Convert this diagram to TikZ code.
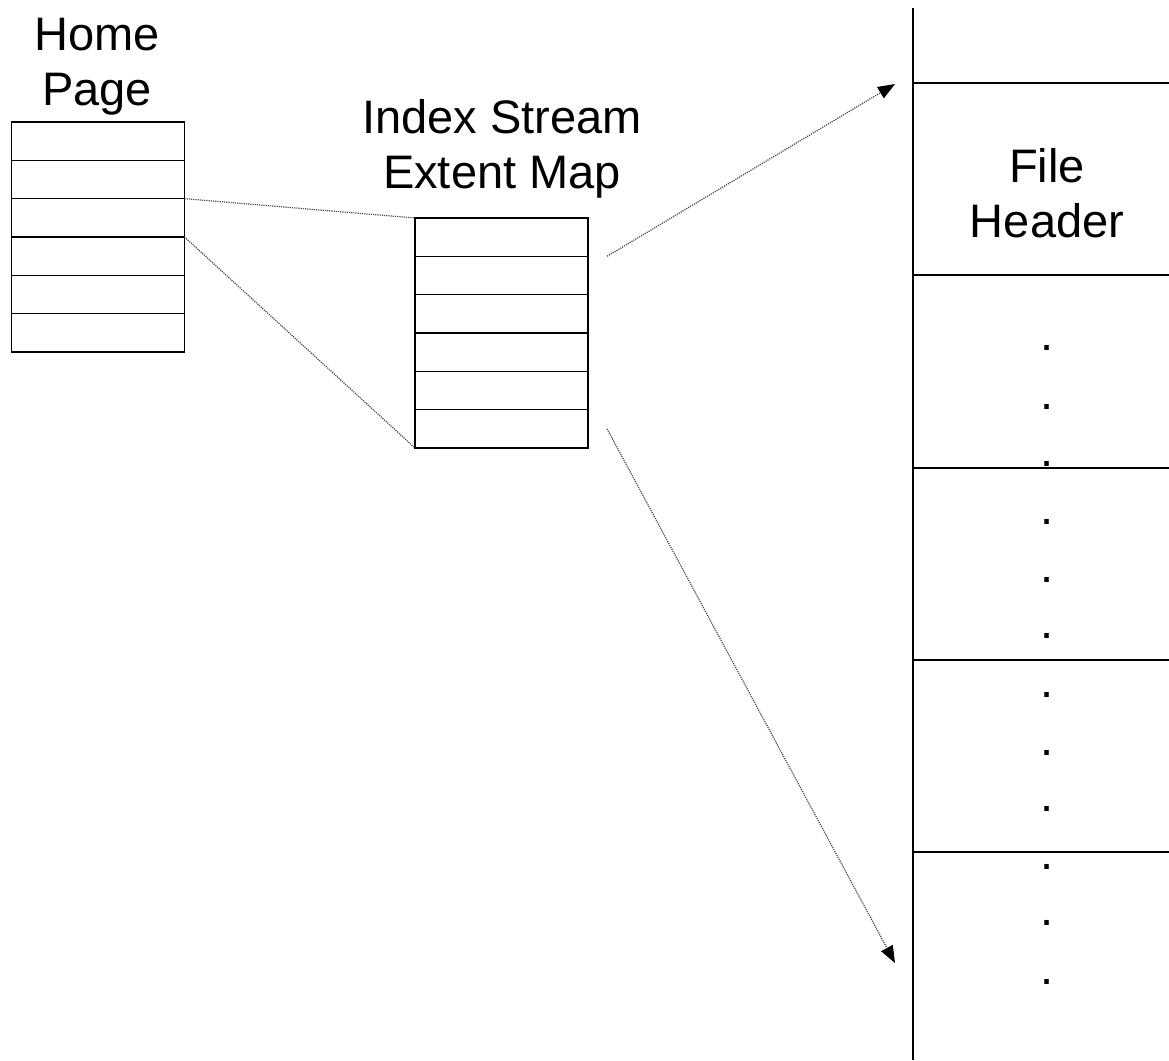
\documentclass[tikz,border=0pt]{standalone}
\usepackage{fontspec}
\setmainfont{Liberation Sans}
\usetikzlibrary{positioning, arrows.meta}

\begin{document}
\begin{tikzpicture}[
  x=1pt, y=-1pt,
  cell/.style = {
    rectangle, draw=black, line width=1.4pt,
    minimum width=173pt, minimum height=38.33pt,
    inner sep=0pt, outer sep=0pt},
  title/.style = {
    align=center, inner sep=0pt,
    font=\fontsize{47}{55}\selectfont},
  dotlbl/.style = {anchor=base, inner sep=0pt,
                   font=\fontsize{47}{55}\selectfont},
  rule/.style = {line width=1.6pt},
  link/.style = {densely dotted, line width=1.2pt, black!70},
  arr/.style  = {link, -{Triangle[length=17pt,width=13pt,color=black]}}
]
\useasboundingbox (0,0) rectangle (1169,1060);

%── Home Page table ──────────────────────────────────────────────
\foreach \i in {1,...,6}
  \node[cell] (hp\i) at (98, {102.83+38.33*\i}) {};
\node[title, anchor=base] (hpl) at (97,105) {Home\\Page};

%── Index Stream Extent Map table ────────────────────────────────
\foreach \i in {1,...,6}
  \node[cell] (ism\i) at (501.5, {198.83+38.33*\i}) {};
\node[title, anchor=base] (isml) at (502,188) {Index Stream\\Extent Map};

%── File column ──────────────────────────────────────────────────
\draw[rule] (913,8) -- (913,1060);
\foreach \y in {83,275,468,660,852}
  \draw[rule] (913,\y) -- (1169,\y);
\node[title, anchor=base] (fh) at (1047,237) {File\\Header};
\foreach \y [count=\k] in {350,409,466,524,582,638,697,755,811,869,925,984}
  \node[dotlbl] (dot\k) at (1047,\y) {.};

%── Connectors ───────────────────────────────────────────────────
\draw[link] (hp3.north east) -- (ism1.north west);
\draw[link] (hp3.south east) -- (ism6.south west);

\coordinate (ptrtop) at ([xshift=19pt]ism1.south east);
\coordinate (ptrbot) at ([xshift=19pt]ism6.east);
\coordinate (hdrtop) at (895,84);
\coordinate (hdrbot) at (895,963);
\draw[arr] (ptrtop) -- (hdrtop);
\draw[arr] (ptrbot) -- (hdrbot);

\end{tikzpicture}
\end{document}
